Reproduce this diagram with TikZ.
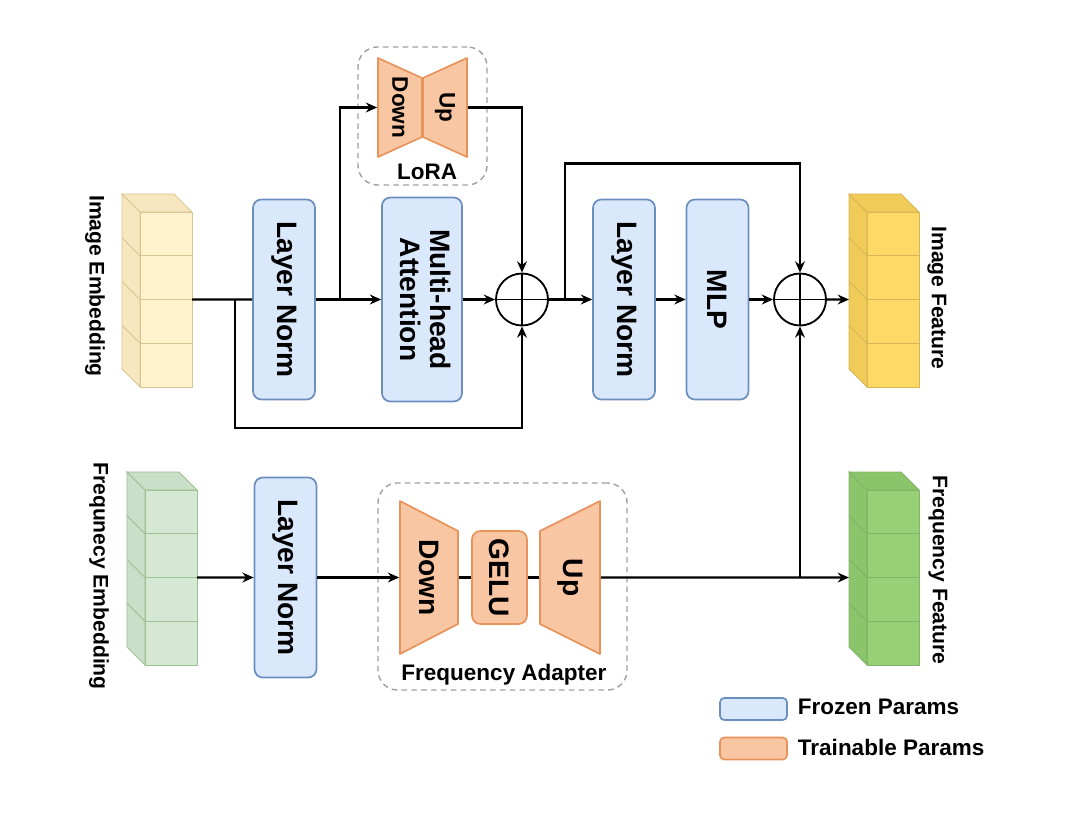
\documentclass[tikz,border=0pt]{standalone}
\usepackage{graphicx}
\usepackage{fontspec}
\setmainfont{Liberation Sans}
\usetikzlibrary{positioning, arrows.meta, calc}

\definecolor{frozenfill}{HTML}{DAE8FC}
\definecolor{frozenline}{HTML}{6C8EBF}
\definecolor{trainfill}{HTML}{F8C6A3}
\definecolor{trainline}{HTML}{E8935A}
\definecolor{groupline}{HTML}{A0A0A0}
\definecolor{embimgfront}{HTML}{FFF2CC}
\definecolor{embimgside}{HTML}{F6E7BF}
\definecolor{embimgedge}{HTML}{D9C690}
\definecolor{featimgfront}{HTML}{FFD966}
\definecolor{featimgside}{HTML}{F1CB58}
\definecolor{featimgedge}{HTML}{D6B656}
\definecolor{embfreqfront}{HTML}{D5E8D4}
\definecolor{embfreqside}{HTML}{C9DFC7}
\definecolor{embfreqedge}{HTML}{9CC08F}
\definecolor{featfreqfront}{HTML}{97D077}
\definecolor{featfreqside}{HTML}{8AC46B}
\definecolor{featfreqedge}{HTML}{82B366}

% texto na vertical
\newcommand{\vtext}[1]{\rotatebox{-90}{#1}}

% pilha de cubos: nome, canto, frente, lado, aresta
\newcommand{\featstack}[5]{%
  \node[stackface, fill=#3, draw=#5, anchor=north west] (#1) at (#2) {};
  \filldraw[fill=#4, draw=#5, line width=0.6pt] (#1.north west) -- ++(-18,-18) -- ++(0,175) -- (#1.south west) -- cycle;
  \filldraw[fill=#4, draw=#5, line width=0.6pt] (#1.north west) -- ++(-18,-18) -- ++(52,0) -- (#1.north east) -- cycle;
  \foreach \k in {1,2,3} {
    \draw[#5, line width=0.6pt] ($(#1.north west)+(0,\k*43.75)$) -- ++(52,0);
    \draw[#5, line width=0.6pt] ($(#1.north west)+(0,\k*43.75)$) -- ++(-18,-18);
  }
  \coordinate (#1-in) at ($(#1.west)+(-18,0)$);
}

\begin{document}
\begin{tikzpicture}[
        x=0.025cm, y=-0.025cm, >={Stealth[length=8pt, width=7pt]},
        frozen/.style={draw=frozenline, fill=frozenfill, line width=1.2pt, rounded corners=6pt, minimum width=1.55cm, minimum height=5cm, inner sep=0pt, align=center, font=\fontsize{20}{23}\selectfont\bfseries},
        trainable/.style={inner sep=0pt, line width=1.2pt, font=\fontsize{20}{23}\selectfont\bfseries},
        trapfill/.style={draw=trainline, fill=trainfill, line width=1.2pt, line join=round},
        sum/.style={draw, circle, line width=1.3pt, minimum size=1.3cm, inner sep=0pt,
            path picture={\draw[line width=1.3pt] (path picture bounding box.north) -- (path picture bounding box.south)
                (path picture bounding box.west) -- (path picture bounding box.east);}},
        link/.style={line width=1.5pt},
        group/.style={draw=groupline, dashed, dash pattern=on 4pt off 3pt, line width=1pt, rounded corners=14pt, inner sep=0pt},
        stackface/.style={minimum width=1.3cm, minimum height=4.375cm, inner sep=0pt, outer sep=0pt, line width=0.6pt},
        sidelabel/.style={rotate=-90, font=\fontsize{15}{17}\selectfont\bfseries},
        grouplabel/.style={font=\fontsize{16}{18}\selectfont\bfseries},
        legendbox/.style={minimum width=1.675cm, minimum height=0.55cm, rounded corners=3pt, line width=1.2pt},
        legendtext/.style={anchor=west, font=\fontsize{16}{18}\selectfont\bfseries}]

        \useasboundingbox (0,0) rectangle (1080,814);
        \fill[white] (0,0) rectangle (1080,814);

        % Grupos tracejados
        \node (loragrp) [group, minimum width=3.225cm, minimum height=3.45cm] at (422.5,116) {};
        \node (adaptgrp) [group, minimum width=6.225cm, minimum height=5.175cm] at (502.5,586.5) {};
        \node (loralbl) [grouplabel] at (427,172) {LoRA};
        \node (adaptlbl) [grouplabel] at (504,675) {Frequency Adapter};

        % Trapezios
        \filldraw[trapfill] (378,58) -- (422,78) -- (422,137) -- (378,157) -- cycle;
        \filldraw[trapfill] (423,78) -- (467,58) -- (467,157) -- (423,137) -- cycle;
        \filldraw[trapfill] (400,501) -- (458,531) -- (458,624) -- (400,654) -- cycle;
        \filldraw[trapfill] (540,531) -- (600,501) -- (600,654) -- (540,624) -- cycle;

        % Pilhas de entrada e saida
        \featstack{imgemb}{140,212}{embimgfront}{embimgside}{embimgedge}
        \featstack{imgfeat}{867,212}{featimgfront}{featimgside}{featimgedge}
        \featstack{freqemb}{145,490}{embfreqfront}{embfreqside}{embfreqedge}
        \featstack{freqfeat}{867,490}{featfreqfront}{featfreqside}{featfreqedge}

        \node (imgemblbl) [sidelabel] at (95,286) {Image Embedding};
        \node (freqemblbl) [sidelabel] at (99,576) {Frequnecy Embedding};
        \node (imgfeatlbl) [sidelabel] at (937,298) {Image Feature};
        \node (freqfeatlbl) [sidelabel] at (938,570) {Frequency Feature};

        % Nos do diagrama
        \node (ln1) [frozen] at (284,299.5) {\vtext{Layer Norm}};
        \node (mha) [frozen, minimum width=2cm, minimum height=5.1cm] at (422,299.5) {\vtext{\begin{tabular}{@{}c@{}}Multi-head\\[-2pt]Attention\end{tabular}}};
        \node (sum1) [sum] at (522,299.5) {};
        \node (ln2) [frozen] at (624,299.5) {\vtext{Layer Norm}};
        \node (mlp) [frozen] at (717.5,299.5) {\vtext{MLP}};
        \node (sum2) [sum] at (800,299.5) {};
        \node (ln3) [frozen] at (285.5,577.5) {\vtext{Layer Norm}};

        \node (ldown) [trainable, font=\fontsize{16}{18}\selectfont\bfseries, minimum width=1.1cm, minimum height=2.475cm] at (400,107.5) {\vtext{Down}};
        \node (lup) [trainable, font=\fontsize{16}{18}\selectfont\bfseries, minimum width=1.1cm, minimum height=2.475cm] at (445,107.5) {\vtext{Up}};
        \node (fdown) [trainable, minimum width=1.45cm, minimum height=3.825cm] at (429,577.5) {\vtext{Down}};
        \node (gelu) [trainable, draw=trainline, fill=trainfill, rounded corners=6pt, minimum width=1.375cm, minimum height=2.325cm] at (499.5,577.5) {\vtext{GELU}};
        \node (fup) [trainable, minimum width=1.5cm, minimum height=3.825cm] at (570,577.5) {\vtext{Up}};

        % Legenda
        \node (frozenkey) [legendbox, draw=frozenline, fill=frozenfill] at (753.5,709) {};
        \node (trainkey) [legendbox, draw=trainline, fill=trainfill] at (753.5,748.5) {};
        \node (frozentxt) [legendtext] at (793,707) {Frozen Params};
        \node (traintxt) [legendtext] at (793,747) {Trainable Params};

        % Pontos de derivacao
        \coordinate (sk1) at (235,299.5);
        \coordinate (sk2) at (340,299.5);
        \coordinate (sk3) at (565,299.5);
        \coordinate (br) at (800,577.5);

        % Conexoes ramo de imagem
        \draw[link] (imgemb.east) -- (ln1.west);
        \draw[link, ->] (ln1) -- (mha);
        \draw[link, ->] (mha) -- (sum1);
        \draw[link, ->] (sum1) -- (ln2);
        \draw[link, ->] (ln2) -- (mlp);
        \draw[link, ->] (mlp) -- (sum2);
        \draw[link, ->] (sum2) -- (imgfeat-in);

        % Residuais e LoRA
        \draw[link, ->] (sk1) -- ++(0,128.5) -| (sum1.south);
        \draw[link, ->] (sk2) |- (ldown.west);
        \draw[link, ->] (lup.east) -| (sum1.north);
        \draw[link, ->] (sk3) -- ++(0,-136) -| (sum2.north);

        % Conexoes ramo de frequencia
        \draw[link, ->] (freqemb.east) -- (ln3);
        \draw[link, ->] (ln3) -- (fdown.west);
        \draw[link] (fdown.east) -- (gelu);
        \draw[link] (gelu) -- (fup.west);
        \draw[link, ->] (fup.east) -- (freqfeat-in);
        \draw[link, ->] (br) -- (sum2.south);

    \end{tikzpicture}
\end{document}
